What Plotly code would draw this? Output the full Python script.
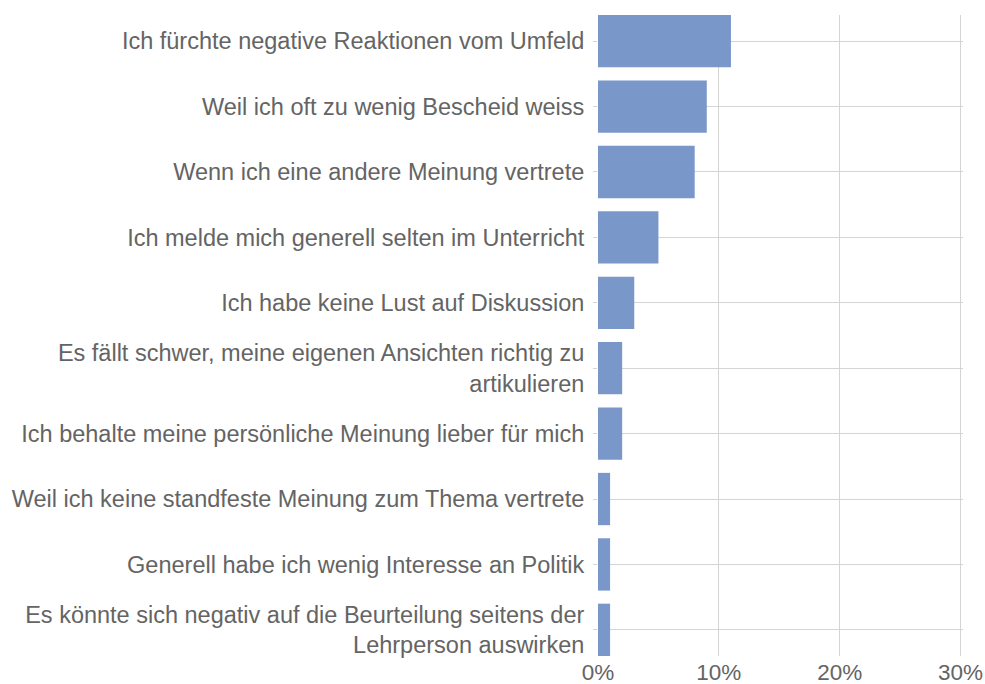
import plotly.graph_objects as go

categories = [
    "Ich fürchte negative Reaktionen vom Umfeld",
    "Weil ich oft zu wenig Bescheid weiss",
    "Wenn ich eine andere Meinung vertrete",
    "Ich melde mich generell selten im Unterricht",
    "Ich habe keine Lust auf Diskussion",
    "Es fällt schwer, meine eigenen Ansichten richtig zu<br>artikulieren",
    "Ich behalte meine persönliche Meinung lieber für mich",
    "Weil ich keine standfeste Meinung zum Thema vertrete",
    "Generell habe ich wenig Interesse an Politik",
    "Es könnte sich negativ auf die Beurteilung seitens der<br>Lehrperson auswirken",
]
values = [11, 9, 8, 5, 3, 2, 2, 1, 1, 1]
x_ticks = [0, 10, 20, 30]
x_tick_labels = ["0%", "10%", "20%", "30%"]

grid = "#d4d4d4"
text_col = "#646464"
gap = 0.2
fs = 23.5

fig = go.Figure(go.Bar(
    y=categories,
    x=values,
    orientation="h",
    marker=dict(color="#7a97c9", line=dict(width=0)),
    hoverinfo="x+y",
))

n = len(categories)
fig.update_layout(
    width=985, height=684,
    margin=dict(l=598, r=22, t=15, b=28, pad=0),
    paper_bgcolor="white", plot_bgcolor="white",
    bargap=gap,
    showlegend=False,
    font=dict(family="Liberation Sans, Arial, sans-serif", size=fs, color=text_col),
)
fig.update_xaxes(
    range=[0, 30.2],
    tickvals=x_ticks, ticktext=x_tick_labels,
    showgrid=True, gridcolor=grid, gridwidth=1,
    zeroline=False, showline=False,
    ticks="", tickfont=dict(size=22.5, color=text_col),
    automargin=False,
    fixedrange=True,
)
fig.update_yaxes(
    type="category",
    autorange=False,
    range=[n - 1 + (1 - gap) / 2, -(1 - gap) / 2],
    showgrid=True, gridcolor=grid, gridwidth=1,
    zeroline=False, showline=False,
    ticks="outside", ticklen=4, tickcolor=grid,
    ticklabelstandoff=4,
    tickfont=dict(size=fs, color=text_col),
    automargin=False,
    fixedrange=True,
)

fig.write_html(
    "out.html",
    config={"displayModeBar": False},
    post_script="document.body.style.margin='0';document.body.style.overflow='hidden';",
)
